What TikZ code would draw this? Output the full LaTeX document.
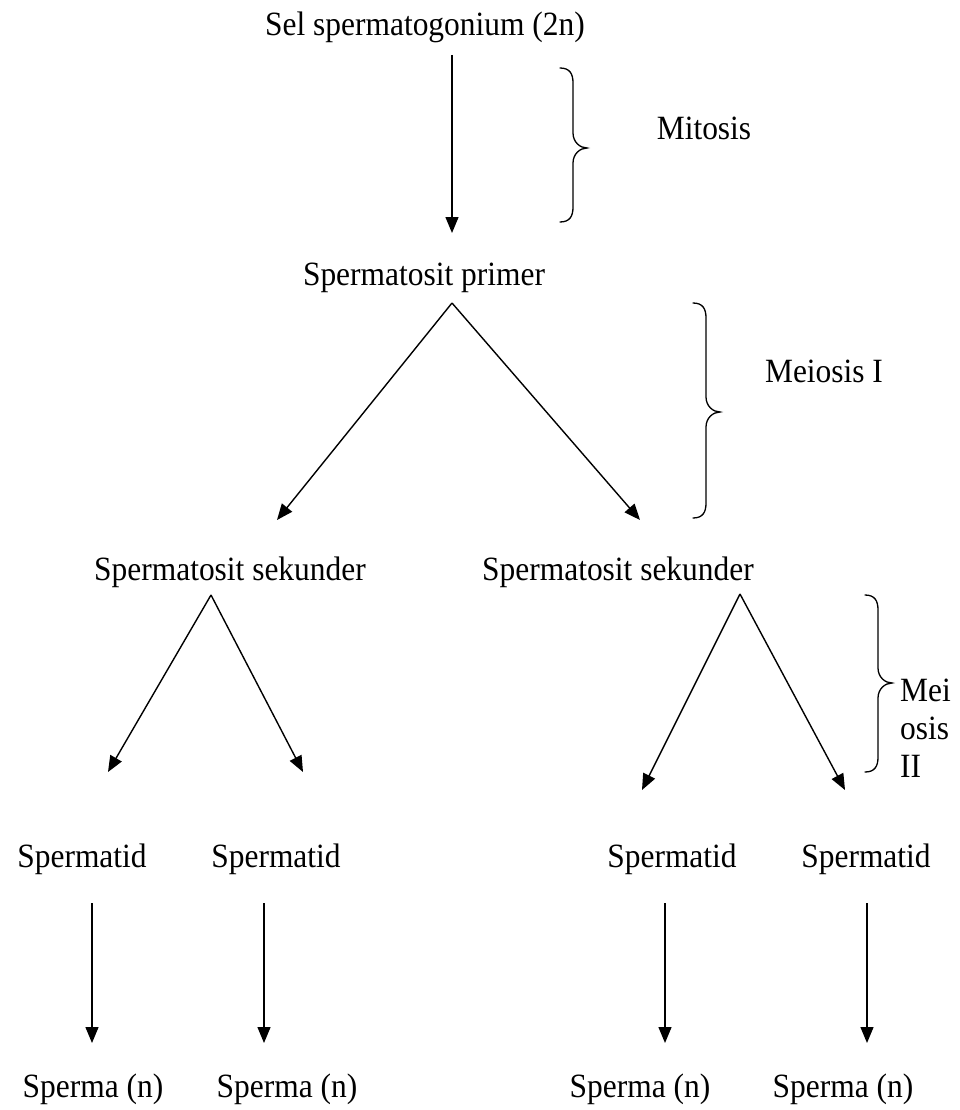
\documentclass[tikz,border=0pt]{standalone}
\usepackage{fontspec}
\setmainfont[FakeStretch=0.925]{Liberation Serif}
\usetikzlibrary{arrows.meta,calc}
\newcommand\mybrace[4]{% #1 x, #2 top y, #3 tip y, #4 bottom y
  \draw[brc] (#1,#2) .. controls ({#1+10},#2) and ({#1+13},{#2+6}) .. ({#1+13},{#2+15})
    -- ({#1+13},{#3-15}) .. controls ({#1+13},{#3-6}) and ({#1+20},#3) .. ({#1+27},#3)
    .. controls ({#1+20},#3) and ({#1+13},{#3+6}) .. ({#1+13},{#3+15})
    -- ({#1+13},{#4-15}) .. controls ({#1+13},{#4-6}) and ({#1+10},#4) .. (#1,#4);}
\begin{document}
\begin{tikzpicture}[x=1pt,y=-1pt,
  lbl/.style={font=\fontsize{34}{38}\selectfont, inner sep=0pt, anchor=base},
  arr/.style={line width=1.4pt, -{Triangle[length=16pt,width=13pt]}},
  brc/.style={line width=1.3pt, line cap=round}]
\useasboundingbox (0,0) rectangle (959,1110);
\fill[white] (0,0) rectangle (959,1110);

% nodes
\node[lbl] (sel) at (425,36) {Sel spermatogonium (2n)};
\node[lbl] (primer) at (424,285) {Spermatosit primer};
\node[lbl] (sekL) at (230,580) {Spermatosit sekunder};
\node[lbl] (sekR) at (618,580) {Spermatosit sekunder};
\node[lbl] (tid1) at (82,867) {Spermatid};
\node[lbl] (tid2) at (276,867) {Spermatid};
\node[lbl] (tid3) at (672,867) {Spermatid};
\node[lbl] (tid4) at (866,867) {Spermatid};
\node[lbl] (sp1) at (93,1097) {Sperma (n)};
\node[lbl] (sp2) at (287,1097) {Sperma (n)};
\node[lbl] (sp3) at (640,1097) {Sperma (n)};
\node[lbl] (sp4) at (843,1097) {Sperma (n)};
\node[lbl] (mit) at (704,140) {Mitosis};
\node[lbl] (mei1) at (824,382) {Meiosis I};
\node[lbl, anchor=north west, align=left] (mei2) at (900,678.8) {Mei\\osis\\II};

% braces
\mybrace{560}{68}{148}{222}
\mybrace{693}{303}{412}{518}
\mybrace{865}{595}{683}{772}

% arrows
\draw[arr] ($(sel.base)+(27,19)$) -- ($(primer.base)+(28,-52)$);
\draw[arr] ($(primer.base)+(28,18)$) -- ($(sekL.base)+(47,-60)$);
\draw[arr] ($(primer.base)+(28,18)$) -- ($(sekR.base)+(22,-60)$);
\draw[arr] ($(sekL.base)+(-19,15)$) -- ($(tid1.base)+(26,-95)$);
\draw[arr] ($(sekL.base)+(-19,15)$) -- ($(tid2.base)+(27,-95)$);
\draw[arr] ($(sekR.base)+(122,14)$) -- ($(tid3.base)+(-30,-77)$);
\draw[arr] ($(sekR.base)+(122,14)$) -- ($(tid4.base)+(-21,-77)$);
\draw[arr] ($(tid1.base)+(10,36)$) -- ($(sp1.base)+(-1,-54)$);
\draw[arr] ($(tid2.base)+(-12,36)$) -- ($(sp2.base)+(-23,-54)$);
\draw[arr] ($(tid3.base)+(-7,36)$) -- ($(sp3.base)+(25,-54)$);
\draw[arr] ($(tid4.base)+(1,36)$) -- ($(sp4.base)+(24,-54)$);
\end{tikzpicture}
\end{document}
